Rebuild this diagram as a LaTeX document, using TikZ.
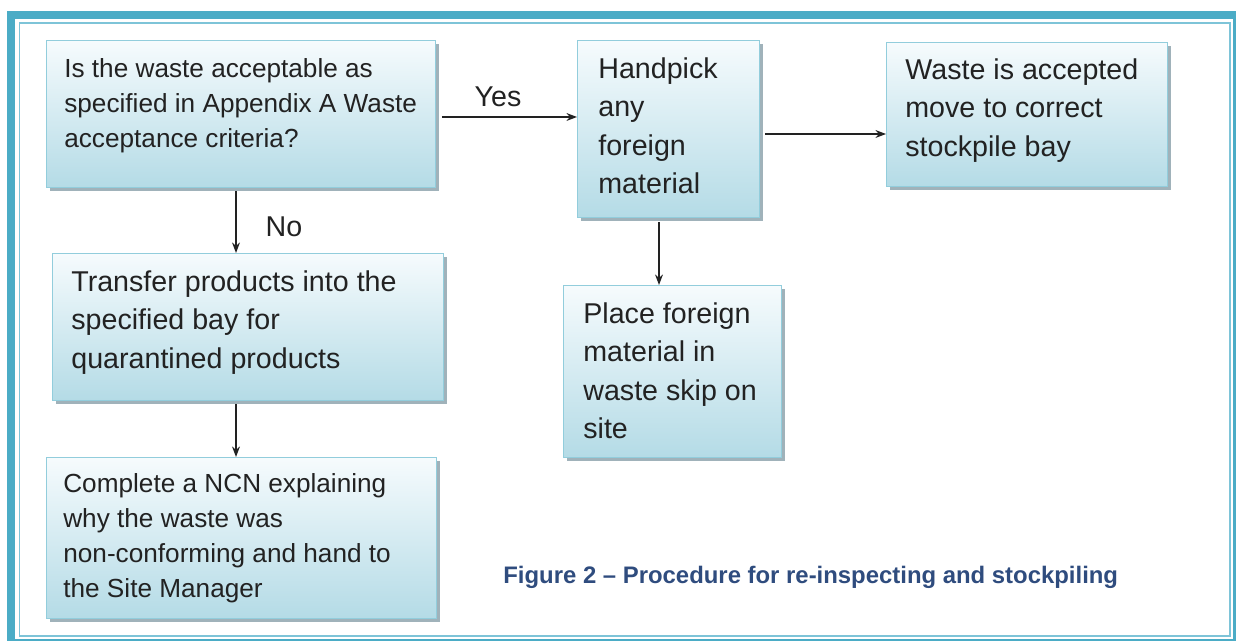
\documentclass[tikz,border=0pt]{standalone}
\usepackage{fontspec}
\setmainfont{Liberation Sans}
\usetikzlibrary{shadows,arrows.meta,positioning}

\definecolor{frameteal}{HTML}{4BACC6}
\definecolor{frameline}{HTML}{7EC4D8}
\definecolor{boxedge}{HTML}{92CDDC}
\definecolor{boxtop}{HTML}{F6FBFD}
\definecolor{boxbot}{HTML}{B4DBE6}
\definecolor{boxshadow}{HTML}{8FA5AE}
\definecolor{captionblue}{HTML}{2F4C7E}
\definecolor{ink}{HTML}{222222}

\begin{document}
\begin{tikzpicture}[x=0.02cm,y=-0.02cm,
  stepbox/.style={draw=boxedge, line width=0.6pt, top color=boxtop, bottom color=boxbot, anchor=north west, inner sep=0pt,
    drop shadow={shadow xshift=0.07cm, shadow yshift=-0.07cm, fill=boxshadow, opacity=0.85}},
  smalltext/.style={inner sep=0pt, align=left, text=ink, font=\fontsize{14.9}{20}\selectfont},
  bigtext/.style={inner sep=0pt, align=left, text=ink, font=\fontsize{16.3}{21.9}\selectfont},
  flow/.style={-{Stealth[length=6pt,width=4.5pt]}, line width=0.8pt, ink},
  ]
\useasboundingbox (0,0) rectangle (1236,641);
% frame
\draw[frameteal, line width=0.16cm] (11,15) rectangle (1237,643);
\draw[frameline, line width=0.04cm] (19.5,23) rectangle (1229.5,636);

% boxes
\node[stepbox, minimum width=7.78cm, minimum height=2.94cm] (accept) at (46,40) {};
\node[stepbox, minimum width=3.64cm, minimum height=3.54cm] (handpick) at (577,40) {};
\node[stepbox, minimum width=5.62cm, minimum height=2.88cm] (accepted) at (886,42) {};
\node[stepbox, minimum width=7.82cm, minimum height=2.94cm] (transfer) at (52,253) {};
\node[stepbox, minimum width=4.36cm, minimum height=3.44cm] (place) at (563,285) {};
\node[stepbox, minimum width=7.80cm, minimum height=3.22cm] (ncn) at (46,457) {};

% texts
\node[smalltext, below right=0.36cm and 0.36cm of accept.north west] {Is the waste acceptable as\\specified in Appendix A Waste\\acceptance criteria?};
\node[bigtext, below right=0.34cm and 0.42cm of handpick.north west] {Handpick\\any\\foreign\\material};
\node[bigtext, below right=0.32cm and 0.38cm of accepted.north west] {Waste is accepted\\move to correct\\stockpile bay};
\node[bigtext, below right=0.34cm and 0.38cm of transfer.north west] {Transfer products into the\\specified bay for\\quarantined products};
\node[bigtext, below right=0.34cm and 0.40cm of place.north west] {Place foreign\\material in\\waste skip on\\site};
\node[smalltext, below right=0.32cm and 0.34cm of ncn.north west] {Complete a NCN explaining\\why the waste was\\non-conforming and hand to\\the Site Manager};

% connectors
\draw[flow, shorten <=0.12cm] (accept.east |- 0,117) -- (handpick.west |- 0,117);
\draw[flow, shorten <=0.1cm] (handpick.east |- 0,134) -- (accepted.west |- 0,134);
\draw[flow, shorten <=0.06cm] (236,0 |- accept.south) -- (236,0 |- transfer.north);
\draw[flow, shorten <=0.06cm] (236,0 |- transfer.south) -- (236,0 |- ncn.north);
\draw[flow, shorten <=0.08cm] (659,0 |- handpick.south) -- (659,0 |- place.north);
\node[bigtext] (yes) at (498,97) {Yes};
\node[bigtext] (no) at (284,227) {No};

% caption
\node[anchor=base west, inner sep=0pt, text=captionblue, font=\fontsize{13.6}{16}\selectfont\bfseries] (caption) at (503,583) {Figure 2 – Procedure for re-inspecting and stockpiling};
\end{tikzpicture}
\end{document}
